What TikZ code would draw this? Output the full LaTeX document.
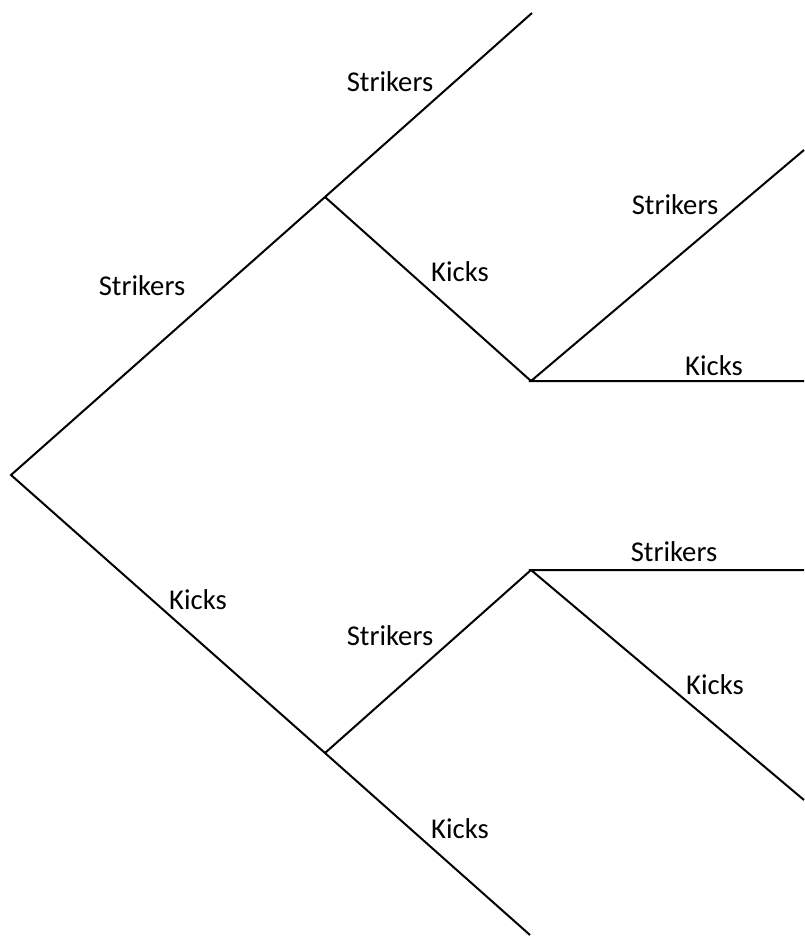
\documentclass[tikz,border=0pt]{standalone}
\usepackage{fontspec}
\setmainfont{Carlito}
\begin{document}
\begin{tikzpicture}[x=0.75pt, y=-0.75pt, every node/.style={inner sep=0pt, font=\fontsize{21.5}{26}\selectfont}, branch/.style={line width=1.5pt, line join=miter}]

		\useasboundingbox (0,0) rectangle (804,936);
		\coordinate (r) at (11, 475);
		\coordinate (s) at (325, 197);
		\coordinate (k) at (325, 753);
		\coordinate (ss) at (532, 13);
		\coordinate (sk) at (531, 381);
		\coordinate (sks) at (804, 150);
		\coordinate (skk) at (804, 381);
		\coordinate (ks) at (531, 570);
		\coordinate (kss) at (804, 570);
		\coordinate (ksk) at (804, 800);
		\coordinate (kk) at (530, 935);
		\node (l1) at (142, 286) {Strikers};
		\node (l2) at (390, 82) {Strikers};
		\node (l3) at (460, 272) {Kicks};
		\node (l4) at (675, 205) {Strikers};
		\node (l5) at (714, 366) {Kicks};
		\node (l6) at (198, 600) {Kicks};
		\node (l7) at (390, 636) {Strikers};
		\node (l8) at (460, 829) {Kicks};
		\node (l9) at (674, 552) {Strikers};
		\node (l10) at (715, 685) {Kicks};
		\draw[branch] (ss) -- (s) -- (r) -- (k) -- (kk);
		\draw[branch] (s) -- (sk);
		\draw[branch] (sks) -- (sk) -- (skk);
		\draw[branch] (k) -- (ks);
		\draw[branch] (kss) -- (ks) -- (ksk);
	\end{tikzpicture}
\end{document}
